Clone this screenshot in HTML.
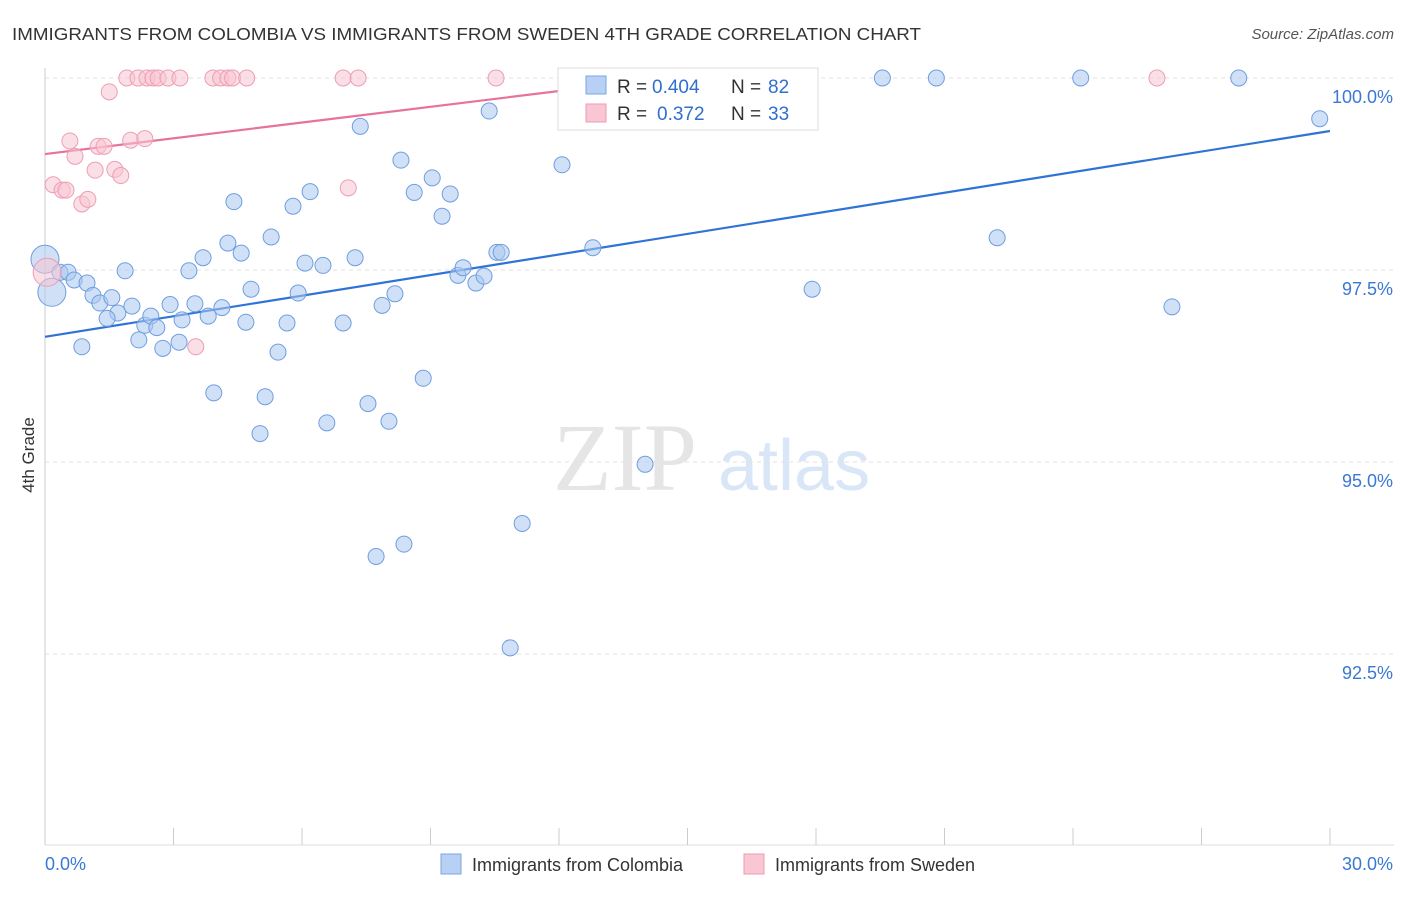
<!DOCTYPE html>
<html><head><meta charset="utf-8"><style>
body{margin:0;background:#fff;font-family:"Liberation Sans",sans-serif}
</style></head><body>
<svg id="chart" width="1406" height="892" xmlns="http://www.w3.org/2000/svg" font-family="Liberation Sans, sans-serif">
<text x="12" y="40" font-size="17.5" fill="#333" textLength="909" lengthAdjust="spacingAndGlyphs">IMMIGRANTS FROM COLOMBIA VS IMMIGRANTS FROM SWEDEN 4TH GRADE CORRELATION CHART</text>
<text x="1394" y="39" font-size="15" fill="#555" text-anchor="end" font-style="italic">Source: ZipAtlas.com</text>
<text transform="translate(34,455) rotate(-90)" font-size="17" fill="#333" text-anchor="middle">4th Grade</text>
<g opacity="0.25">
<text x="553" y="490" font-size="96" fill="#999" font-family="Liberation Serif, serif">ZIP</text>
<text x="718" y="490" font-size="72" fill="#6a9ee0">atlas</text>
</g>
<g id="grid"></g><g id="axes"></g><g id="lines"></g><g id="pts"></g>
<g>
<rect x="558" y="68" width="260" height="62" fill="#fff" stroke="#ddd"/>
<rect x="586" y="76" width="20" height="18" fill="#b7d0f3" stroke="#7aa6e6"/>
<text x="617" y="93" font-size="19" fill="#333">R =</text>
<text x="652" y="93" font-size="19" fill="#2f6fd0">0.404</text>
<text x="731" y="93" font-size="19" fill="#333">N =</text>
<text x="768" y="93" font-size="19" fill="#2f6fd0">82</text>
<rect x="586" y="104" width="20" height="18" fill="#f9c6d4" stroke="#ef9ab3"/>
<text x="617" y="120" font-size="19" fill="#333">R =</text>
<text x="657" y="120" font-size="19" fill="#2f6fd0">0.372</text>
<text x="731" y="120" font-size="19" fill="#333">N =</text>
<text x="768" y="120" font-size="19" fill="#2f6fd0">33</text>
</g>
<g>
<rect x="441" y="854" width="20" height="20" fill="#b7d0f3" stroke="#7aa6e6"/>
<text x="472" y="871" font-size="18" fill="#333">Immigrants from Colombia</text>
<rect x="744" y="854" width="20" height="20" fill="#f9c6d4" stroke="#ef9ab3"/>
<text x="775" y="871" font-size="18" fill="#333">Immigrants from Sweden</text>
</g>
</svg>
<script>
const yTicks=[100,97.5,95,92.5];
const yTickLabels=["100.0%","97.5%","95.0%","92.5%"];
const xTickLabels=["0.0%","30.0%"];
const blueX=[0,0.16,0.35,0.54,0.68,0.98,1.12,1.28,1.56,1.7,1.87,0.86,1.45,2.03,2.19,2.33,2.47,2.61,2.75,2.92,3.13,3.2,3.36,3.5,3.69,3.81,3.94,4.13,4.27,4.41,4.58,4.69,4.81,5.02,5.14,5.28,5.44,5.65,5.79,5.91,6.07,6.19,6.49,6.58,6.96,7.24,7.36,7.54,7.73,7.87,8.03,8.17,8.31,8.38,8.62,8.83,9.04,9.27,9.46,9.64,9.76,10.06,10.25,10.37,10.55,10.65,10.86,11.14,12.07,12.79,13.8,14.01,15.34,17.91,19.55,20.81,22.23,24.18,26.31,27.87,29.76];
const blueY=[97.64,97.21,97.47,97.47,97.37,97.33,97.17,97.07,97.14,96.94,97.49,96.5,96.87,97.03,96.59,96.78,96.9,96.75,96.48,97.05,96.56,96.85,97.49,97.06,97.66,96.9,95.9,97.01,97.85,98.39,97.72,96.82,97.25,95.37,95.85,97.93,96.43,96.81,98.33,97.2,97.59,98.52,97.56,95.51,96.81,97.66,99.37,95.76,93.77,97.04,95.53,97.19,98.93,93.93,98.51,96.09,98.7,98.2,98.49,97.43,97.53,97.33,97.42,99.57,97.73,97.73,92.58,94.2,98.87,97.79,100,94.97,100,97.25,100,100,97.92,100,97.02,100,99.47];
const pinkX=[0.05,0.19,0.4,0.49,0.58,0.7,0.86,1.0,1.17,1.24,1.38,1.5,1.63,1.77,1.91,2.0,2.17,2.33,2.38,2.52,2.64,2.87,3.15,3.52,3.92,4.1,4.27,4.38,4.71,6.96,7.08,7.31,10.53,25.96];
const pinkY=[97.47,98.61,98.54,98.54,99.18,98.98,98.36,98.42,98.8,99.11,99.11,99.82,98.81,98.73,100,99.19,100,99.21,100,100,100,100,100,96.5,100,100,100,100,100,100,98.57,100,100,100];
const blueTrend=[96.63,99.31];
const pinkTrend=[99.01,99.96];
const pinkTrendEndX=13.9;
const X0=45,X1=1330,YT=78,YS=192/2.5;
const xs=v=>X0+(v/30)*(X1-X0), ys=v=>YT+(100-v)*YS;
const NS="http://www.w3.org/2000/svg";
function mk(tag,attrs,parent){const e=document.createElementNS(NS,tag);for(const k in attrs)e.setAttribute(k,attrs[k]);document.getElementById(parent).appendChild(e);return e;}
yTicks.forEach((t,i)=>{
 const g=mk('line',{x1:45,x2:1394,y1:ys(t),y2:ys(t),stroke:'#e2e2e2','stroke-dasharray':'4,4'},'grid');
 
 
 const l=mk('text',{x:1393,y:ys(t)+25,'font-size':18,fill:'#3a78d4','text-anchor':'end'},'grid');
 l.textContent=yTickLabels[i];
 
 
});
const ax=mk('line',{x1:45,x2:45,y1:68,y2:845,stroke:'#ccc'},'axes');


const bx=mk('line',{x1:45,x2:1394,y1:845,y2:845,stroke:'#ddd'},'axes');


for(let i=0;i<=10;i++){const t=mk('line',{x1:xs(i*3),x2:xs(i*3),y1:828,y2:845,stroke:'#ccc'},'axes');
 
 }
[[0,45,'start'],[30,1393,'end']].forEach((d,i)=>{const t=mk('text',{x:d[1],y:870,'font-size':18,fill:'#3a78d4','text-anchor':d[2]},'axes');t.textContent=xTickLabels[i];
 
 });
function drawPts(X,Y,fill,stroke,name,bigIdx){X.forEach((x,i)=>{const big=bigIdx.includes(i);const c=mk('circle',{cx:xs(x),cy:ys(Y[i]),r:big?14:8,fill:fill,'fill-opacity':0.55,stroke:stroke,'stroke-width':1},'pts');
 
 });}
drawPts(blueX,blueY,'#a9c8f0','#6f9ee0','colombia-point',[0,1]);
drawPts(pinkX,pinkY,'#f7c4d2','#ee9db5','sweden-point',[0]);
const bl=mk('line',{x1:xs(0),y1:ys(blueTrend[0]),x2:xs(30),y2:ys(blueTrend[1]),stroke:'#2f73d6','stroke-width':2.2},'lines');


const pl=mk('line',{x1:xs(0),y1:ys(pinkTrend[0]),x2:xs(pinkTrendEndX),y2:ys(pinkTrend[1]),stroke:'#e8739a','stroke-width':2.2},'lines');


</script>
</body></html>
